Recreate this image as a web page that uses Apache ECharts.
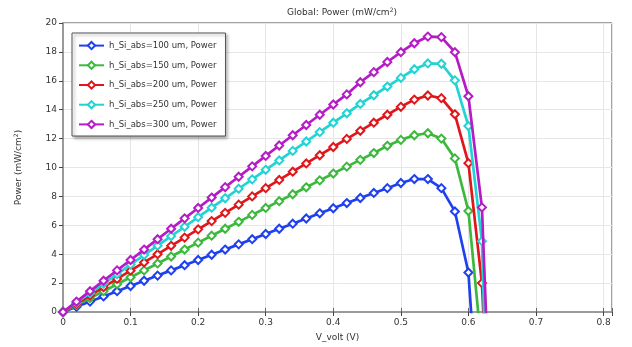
<!DOCTYPE html>
<html>
<head>
<meta charset="utf-8">
<script src="https://cdn.jsdelivr.net/npm/echarts@6/dist/echarts.min.js"></script>
<style>html,body{margin:0;padding:0;background:#fff;}#c{width:632px;height:347px;}</style>
</head>
<body>
<div id="c"></div>
<script>
const voltages = [0,0.02,0.04,0.06,0.08,0.10,0.12,0.14,0.16,0.18,0.20,0.22,0.24,0.26,0.28,0.30,0.32,0.34,0.36,0.38,0.40,0.42,0.44,0.46,0.48,0.50,0.52,0.54,0.56,0.58,0.60,0.62,0.64];
const seriesNames = ['h_Si_abs=100 um, Power','h_Si_abs=150 um, Power','h_Si_abs=200 um, Power','h_Si_abs=250 um, Power','h_Si_abs=300 um, Power'];
const power100 = [0,0.36,0.72,1.08,1.44,1.80,2.16,2.52,2.88,3.24,3.60,3.96,4.32,4.68,5.04,5.40,5.76,6.11,6.47,6.83,7.18,7.54,7.89,8.24,8.57,8.93,9.20,9.20,8.57,6.96,2.73,-11.0];
const power150 = [0,0.48,0.96,1.44,1.92,2.40,2.88,3.36,3.84,4.32,4.80,5.28,5.76,6.24,6.72,7.20,7.67,8.15,8.63,9.11,9.58,10.06,10.53,11.00,11.50,11.91,12.23,12.37,12.00,10.63,6.99,-2.7];
const power200 = [0,0.57,1.14,1.72,2.29,2.86,3.43,4.00,4.58,5.15,5.72,6.29,6.86,7.43,8.00,8.57,9.14,9.71,10.28,10.85,11.42,11.98,12.54,13.10,13.65,14.20,14.70,14.98,14.80,13.68,10.30,2.00,-18.0];
const power250 = [0,0.66,1.31,1.97,2.62,3.28,3.94,4.59,5.25,5.90,6.56,7.22,7.87,8.53,9.18,9.84,10.49,11.15,11.80,12.45,13.10,13.75,14.40,15.00,15.60,16.20,16.80,17.20,17.18,16.03,12.87,4.90,-28.0];
const power300 = [0,0.72,1.44,2.16,2.88,3.60,4.32,5.04,5.76,6.48,7.20,7.92,8.64,9.36,10.08,10.80,11.52,12.23,12.94,13.65,14.36,15.06,15.90,16.60,17.30,17.98,18.60,19.06,19.02,17.98,14.93,7.24,-17.0];
const colors = ['#1f40ee','#3cb93c','#e0161b','#22d3d3','#b51bc6'];
const xTicks = {min:0, max:0.8125, interval:0.1};
const yTicks = {min:0, max:20, interval:2};

const allPower = [power100, power150, power200, power250, power300];
const font = 'DejaVu Sans';
const chart = echarts.init(document.getElementById('c'), null, {renderer:'canvas'});
const fmtX = v => { const r = Math.round(v*10)/10; return Math.abs(v-r) < 1e-6 ? String(r) : ''; };
chart.setOption({
  animation:false,
  backgroundColor:'#fff',
  title:{
    text:'Global: Power (mW/cm{sup|2})',
    left:337, top:2, textAlign:'center',
    textStyle:{fontFamily:font, fontSize:9, fontWeight:'normal', color:'#333',
      rich:{sup:{fontSize:6, verticalAlign:'top', padding:[0,0,6,0], fontFamily:font, color:'#333'}}}
  },
  grid:{left:63, top:23, right:20, bottom:33, show:true, borderColor:'#444', borderWidth:1, backgroundColor:'transparent'},
  legend:{
    orient:'vertical', left:72, top:33,
    padding:[8,9,7,6], itemWidth:25, itemHeight:9, itemGap:10.5,
    backgroundColor:'#fff', borderColor:'#555', borderWidth:1,
    shadowBlur:3, shadowColor:'rgba(0,0,0,0.35)', shadowOffsetX:2, shadowOffsetY:2,
    textStyle:{fontFamily:font, fontSize:8.5, color:'#333'},
    data:seriesNames
  },
  xAxis:[{
    type:'value', min:xTicks.min, max:xTicks.max, interval:xTicks.interval,
    name:'V_volt (V)', nameLocation:'middle', nameGap:21,
    nameTextStyle:{fontFamily:font, fontSize:9, color:'#333'},
    axisLine:{show:true, lineStyle:{color:'#9a9a9a', width:2}},
    axisTick:{show:true, inside:true, length:4, lineStyle:{color:'#666'}},
    axisLabel:{fontFamily:font, fontSize:9, color:'#333', margin:6, formatter:fmtX, showMaxLabel:true},
    splitLine:{show:true, lineStyle:{color:'#e6e6e6', width:1}}
  },{
    type:'value', position:'top', min:xTicks.min, max:xTicks.max, interval:xTicks.interval,
    axisLine:{show:false}, axisLabel:{show:false}, splitLine:{show:false},
    axisTick:{show:true, inside:true, length:4, lineStyle:{color:'#444'}}
  }],
  yAxis:[{
    type:'value', min:yTicks.min, max:yTicks.max, interval:yTicks.interval,
    name:'Power (mW/cm{sup|2})', nameLocation:'middle', nameGap:38,
    nameTextStyle:{fontFamily:font, fontSize:9, color:'#333',
      rich:{sup:{fontSize:6, verticalAlign:'top', padding:[0,0,6,0], fontFamily:font, color:'#333'}}},
    axisLine:{show:true, lineStyle:{color:'#9a9a9a', width:2}},
    axisTick:{show:true, inside:false, length:4, lineStyle:{color:'#666'}},
    axisLabel:{fontFamily:font, fontSize:9, color:'#333', margin:6},
    splitLine:{show:true, lineStyle:{color:'#e6e6e6', width:1}}
  },{
    type:'value', position:'right', min:yTicks.min, max:yTicks.max, interval:yTicks.interval,
    axisLine:{show:false}, axisLabel:{show:false}, splitLine:{show:false},
    axisTick:{show:true, inside:true, length:4, lineStyle:{color:'#444'}}
  }],
  series: allPower.map((arr, i) => ({
    name: seriesNames[i], type:'line', xAxisIndex:0, yAxisIndex:0,
    data: arr.map((p, k) => [voltages[k], p]),
    clip:true,
    symbol:'emptyDiamond', symbolSize:8, showAllSymbol:true,
    lineStyle:{color:colors[i], width:2.7},
    itemStyle:{color:colors[i], borderColor:colors[i], borderWidth:1.5},
    emphasis:{disabled:true}, z: 2+i
  }))
});
</script>
</body>
</html>
